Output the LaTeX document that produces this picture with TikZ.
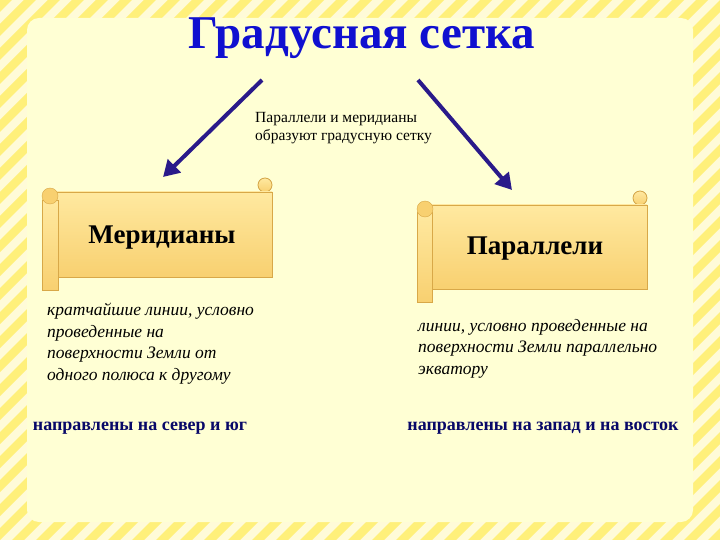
\documentclass[tikz,border=0pt]{standalone}
\usepackage{fontspec}
\setmainfont{Liberation Serif}
\usetikzlibrary{arrows.meta}
\definecolor{stripe}{HTML}{FFF07A}
\definecolor{pale}{HTML}{FFFBD8}
\definecolor{inner}{HTML}{FFFFD4}
\definecolor{scrollA}{HTML}{FFE9A0}
\definecolor{scrollB}{HTML}{F8D070}
\definecolor{scrolledge}{HTML}{D8A848}
\definecolor{titleblue}{HTML}{1010D0}
\definecolor{arrowblue}{HTML}{2A1A8A}
\tikzset{
  scrollbody/.style={draw=scrolledge,line width=0.8pt,top color=scrollA,bottom color=scrollB},
  bigarrow/.style={draw=arrowblue,line width=4pt,-{Triangle[length=16pt,width=18pt]}},
  desc/.style={anchor=north west,align=left,font=\fontsize{17.5}{21.5}\selectfont\itshape},
  dirtxt/.style={font=\fontsize{18}{20}\selectfont\bfseries,text=titleblue!50!black},
}
\begin{document}
\begin{tikzpicture}[x=1pt,y=-1pt]
\useasboundingbox (0,0) rectangle (720,540);
\fill[pale] (0,0) rectangle (720,540);
\begin{scope}
\clip (0,0) rectangle (720,540);
\foreach \i in {-5,...,55}{
  \fill[stripe] (\i*24,0) -- (\i*24+12,0) -- (\i*24+12-540,540) -- (\i*24-540,540) -- cycle;
}
\end{scope}
\fill[inner,rounded corners=12pt] (27,18) rectangle (693,522);
\node[font=\fontsize{47}{50}\selectfont\bfseries,text=titleblue] (title) at (362,38) {Градусная сетка};
\node[anchor=north west,align=left,inner sep=0pt,font=\fontsize{15.5}{18}\selectfont] (note) at (255,112) {Параллели и меридианы\\образуют градусную сетку};
\coordinate (la) at (262,80); \coordinate (lb) at (163,177);
\coordinate (ra) at (418,80); \coordinate (rb) at (512,190);
\draw[bigarrow] (la) -- (lb);
\draw[bigarrow] (ra) -- (rb);
% left scroll
\fill[scrollbody] (265,185) circle (7);
\draw[scrollbody] (52,192) rectangle (272,277);
\draw[scrollbody] (42,200) rectangle (58,290);
\fill[scrollB,draw=scrolledge] (50,196) circle (8);
\node[font=\fontsize{27}{30}\selectfont\bfseries] (mer) at (162,238) {Меридианы};
% right scroll
\fill[scrollbody] (640,198) circle (7);
\draw[scrollbody] (426,205) rectangle (647,289);
\draw[scrollbody] (417,212) rectangle (432,302);
\fill[scrollB,draw=scrolledge] (425,209) circle (8);
\node[font=\fontsize{27}{30}\selectfont\bfseries] (par) at (535,249) {Параллели};
\node[desc,inner sep=0pt] (d1) at (47,303) {кратчайшие линии, условно\\проведенные на\\поверхности Земли от\\одного полюса к другому};
\node[desc,inner sep=0pt] (d2) at (418,319) {линии, условно проведенные на\\поверхности Земли параллельно\\экватору};
\node[dirtxt] (n1) at (140,428) {направлены на север и юг};
\node[dirtxt] (n2) at (543,428) {направлены на запад и на восток};
\end{tikzpicture}
\end{document}
